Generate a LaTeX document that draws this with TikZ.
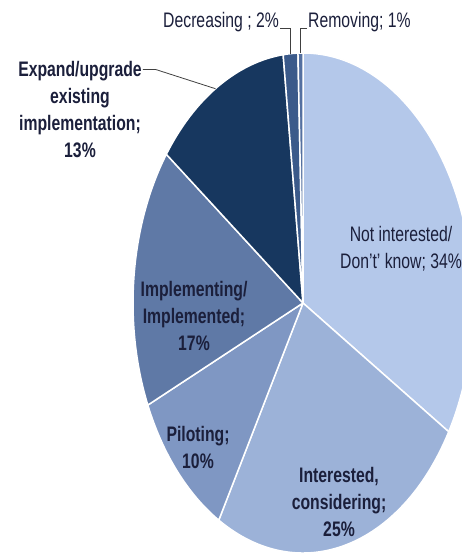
\documentclass[tikz,border=0pt]{standalone}
\usepackage{fontspec}
\setmainfont{Liberation Sans}[FakeStretch=0.75]
\usepackage{tikz}
\definecolor{notcolor}{RGB}{180,200,234}
\definecolor{intcolor}{RGB}{156,178,216}
\definecolor{pilcolor}{RGB}{127,151,195}
\definecolor{implcolor}{RGB}{95,121,166}
\definecolor{expcolor}{RGB}{23,55,95}
\definecolor{deccolor}{RGB}{59,90,138}
\definecolor{remcolor}{RGB}{84,112,160}
\definecolor{labelcolor}{RGB}{27,31,59}

\begin{document}
\begin{tikzpicture}[x=1pt,y=1pt,font=\fontsize{21}{27}\selectfont,text=labelcolor]
 \tikzstyle{slice}=[draw=white,line width=1.5pt,line join=round]
 \tikzstyle{slicetext}=[align=center,inner sep=1pt]
 \tikzstyle{boldtext}=[slicetext,font=\fontsize{21}{27}\selectfont\bfseries]
 \tikzstyle{leaderline}=[draw=black!75,line width=0.8pt]

   \useasboundingbox (0,0) rectangle (461,556);
   \coordinate (c) at (303,253);

   % slices, clockwise from the top
   \path[slice,fill=notcolor] (c) -- ++(90:170pt and 250pt) arc[start angle=90,end angle=-31,x radius=170pt,y radius=250pt] -- cycle;
   \path[slice,fill=intcolor] (c) -- ++(-31:170pt and 250pt) arc[start angle=-31,end angle=-119.7,x radius=170pt,y radius=250pt] -- cycle;
   \path[slice,fill=pilcolor] (c) -- ++(-119.7:170pt and 250pt) arc[start angle=-119.7,end angle=-155.9,x radius=170pt,y radius=250pt] -- cycle;
   \path[slice,fill=implcolor] (c) -- ++(-155.9:170pt and 250pt) arc[start angle=-155.9,end angle=-216.5,x radius=170pt,y radius=250pt] -- cycle;
   \path[slice,fill=expcolor] (c) -- ++(143.5:170pt and 250pt) arc[start angle=143.5,end angle=96.7,x radius=170pt,y radius=250pt] -- cycle;
   \path[slice,fill=deccolor] (c) -- ++(96.7:170pt and 250pt) arc[start angle=96.7,end angle=91.7,x radius=170pt,y radius=250pt] -- cycle;
   \path[slice,fill=remcolor] (c) -- ++(91.7:170pt and 250pt) arc[start angle=91.7,end angle=90,x radius=170pt,y radius=250pt] -- cycle;

   % leader ends on the rim
   \path (c) ++(121:170pt and 250pt) coordinate (expend);
   \path (c) ++(94.2:170pt and 250pt) coordinate (decend);
   \path (c) ++(90.85:170pt and 250pt) coordinate (remend);

   \node[slicetext] (notlbl) at (401,307) {Not interested/\\Don't' know; 34\%};
   \node[boldtext] (intlbl) at (339,54) {Interested,\\considering;\\25\%};
   \node[boldtext] (pillbl) at (198,109) {Piloting;\\10\%};
   \node[boldtext] (impllbl) at (194,240) {Implementing/\\Implemented;\\17\%};
   \node[boldtext] (explbl) at (80,446) {Expand/upgrade\\existing\\implementation;\\13\%};
   \node[slicetext,anchor=base east] (declbl) at (280,528) {Decreasing ; 2\%};
   \node[slicetext,anchor=base west] (remlbl) at (307,528) {Removing; 1\%};

   \draw[leaderline] ([yshift=-9pt]explbl.north east) -- ++(13,0) -- (expend);
   \draw[leaderline] (declbl.base east) -| (decend);
   \draw[leaderline] (remend) |- (remlbl.base west);

\end{tikzpicture}
\end{document}
